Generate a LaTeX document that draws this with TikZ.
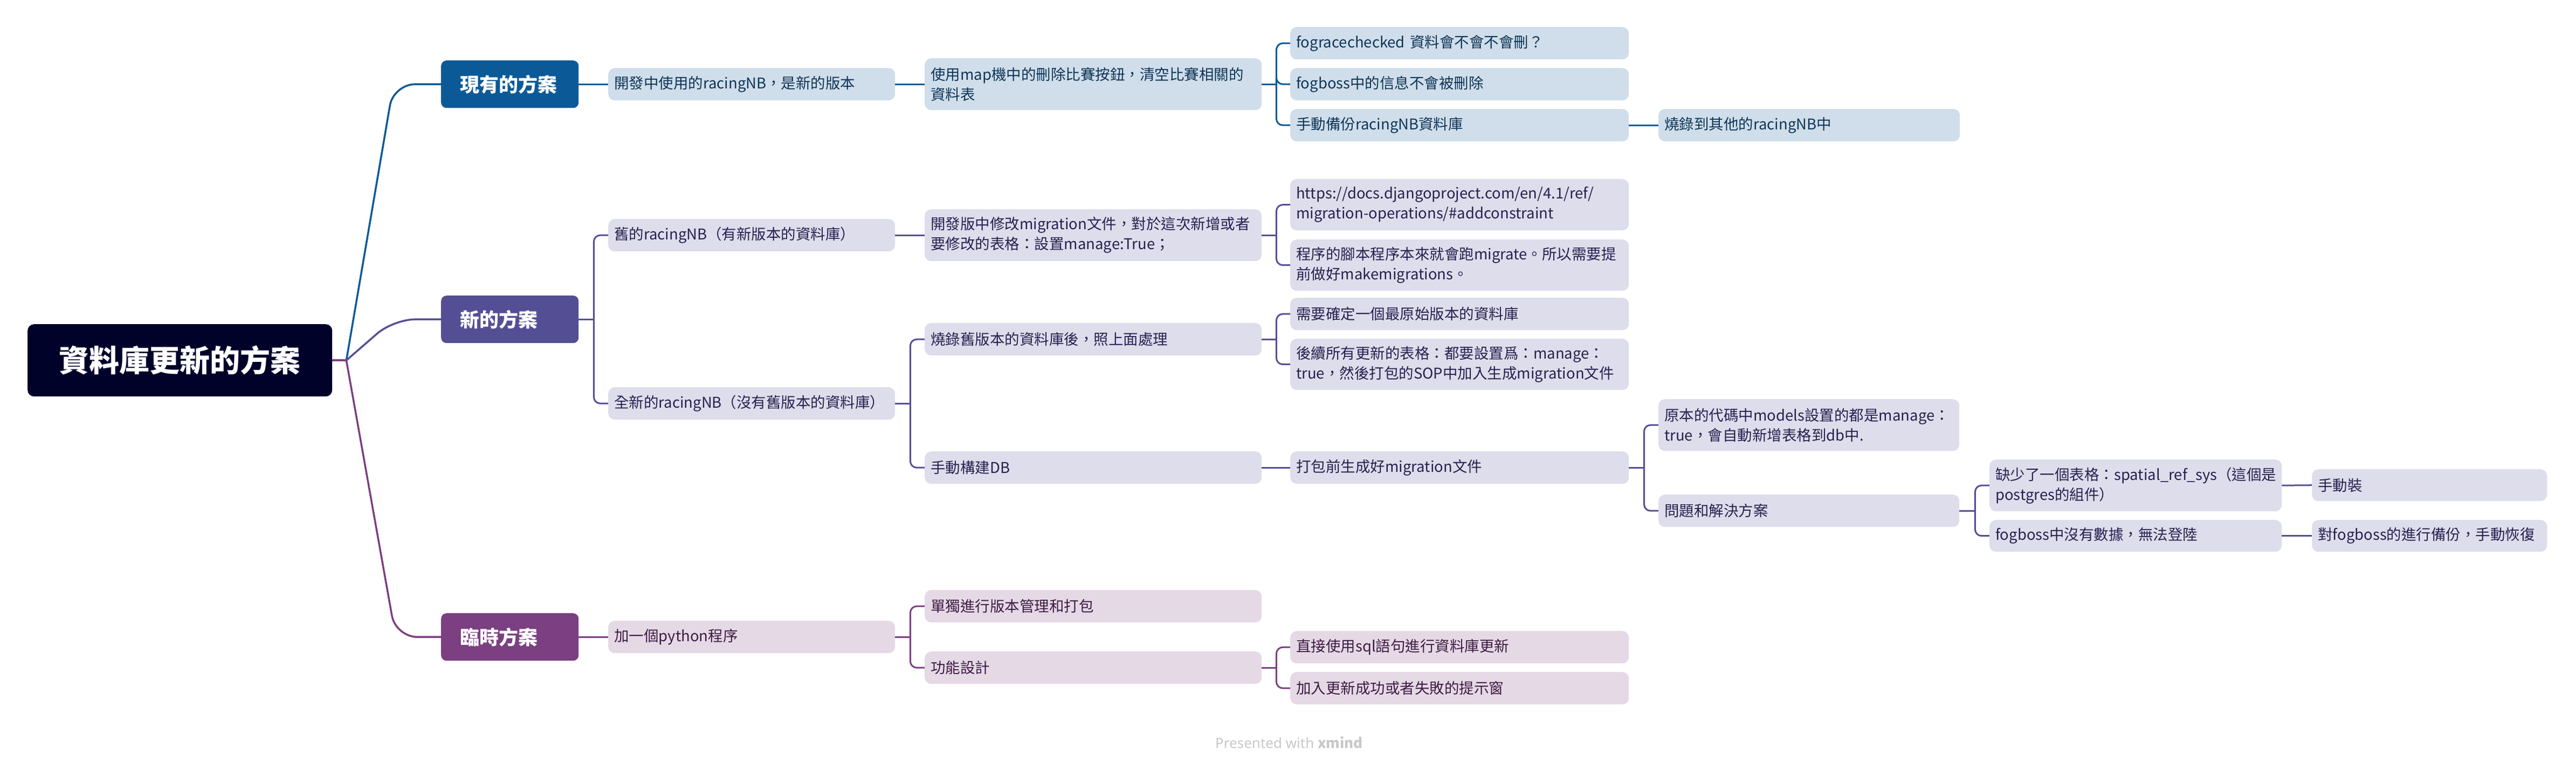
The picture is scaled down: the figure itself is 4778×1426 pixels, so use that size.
\documentclass[tikz,border=0pt]{standalone}
\usepackage{fontspec}
\setmainfont{Noto Sans CJK TC}
\newfontfamily\footfont{Noto Sans}
\usetikzlibrary{calc}
\definecolor{rootC}{HTML}{00022A}
\definecolor{blueC}{HTML}{0B5A97}
\definecolor{blueL}{HTML}{CFDEEA}
\definecolor{blueT}{HTML}{0F3457}
\definecolor{purC}{HTML}{544F95}
\definecolor{purL}{HTML}{DEDDEB}
\definecolor{purT}{HTML}{262150}
\definecolor{plumC}{HTML}{7B3F82}
\definecolor{plumL}{HTML}{E5D9E6}
\definecolor{plumT}{HTML}{3D1B42}
\definecolor{footC}{HTML}{C8C8C8}
\newcommand\bx[8]{%
  \pgfmathsetmacro\myBW{#4-#2}%
  \pgfmathsetmacro\myBH{#5-#3}%
  \pgfmathsetmacro\myTW{#4-#2-2*#7}%
  \node[#6, anchor=north west, minimum width=\myBW pt, minimum height=\myBH pt,
        text width=\myTW pt, inner xsep=#7pt, inner ysep=0pt] (#1) at (#2,#3) {#8};}
\tikzset{
  lvl/.style={rounded corners=12pt, align=left, font=\fontsize{27.5}{37}\selectfont},
  bl/.style={lvl, fill=blueL, text=blueT},
  pl/.style={lvl, fill=purL, text=purT},
  ml/.style={lvl, fill=plumL, text=plumT},
  mainbox/.style={rounded corners=10pt, align=left, text=white, font=\fontsize{36}{44}\selectfont\bfseries},
  rootbox/.style={rounded corners=12pt, align=center, fill=rootC, text=white, font=\fontsize{56}{66}\selectfont\bfseries},
  cb/.style={line width=3pt},
  brk/.style={line width=3pt, rounded corners=12pt},
  trunk/.style={line width=3.5pt, rounded corners=40pt},
}
\begin{document}
\begin{tikzpicture}[x=1pt, y=-1pt]
\useasboundingbox (0,0) rectangle (4778,1426);
% root and main branches
\bx{root}{51}{601}{616}{735}{rootbox}{30}{資料庫更新的方案}
\bx{m1}{818}{112}{1073}{200}{mainbox, fill=blueC}{35}{現有的方案}
\bx{m2}{818}{548}{1073}{636}{mainbox, fill=purC}{35}{新的方案}
\bx{m3}{818}{1137}{1073}{1225}{mainbox, fill=plumC}{35}{臨時方案}
% branch 1
\bx{a1}{1128}{126}{1660}{186}{bl}{11}{開發中使用的racingNB，是新的版本}
\bx{a2}{1715}{108}{2340}{204}{bl}{11}{使用map機中的刪除比賽按鈕，清空比賽相關的\\資料表}
\bx{a31}{2393}{50}{3021}{110}{bl}{11}{fogracechecked 資料會不會不會刪？}
\bx{a32}{2393}{126}{3021}{186}{bl}{11}{fogboss中的信息不會被刪除}
\bx{a33}{2393}{202}{3021}{262}{bl}{11}{手動備份racingNB資料庫}
\bx{a331}{3076}{202}{3635}{262}{bl}{11}{燒錄到其他的racingNB中}
% branch 2
\bx{b1}{1128}{406}{1660}{466}{pl}{11}{舊的racingNB（有新版本的資料庫）}
\bx{b11}{1715}{388}{2340}{484}{pl}{11}{開發版中修改migration文件，對於這次新增或者\\要修改的表格：設置manage:True；}
\bx{b111}{2393}{332}{3021}{427}{pl}{11}{https://docs.djangoproject.com/en/4.1/ref/\\migration-operations/\#addconstraint}
\bx{b112}{2393}{444}{3021}{539}{pl}{11}{程序的腳本程序本來就會跑migrate。所以需要提\\前做好makemigrations。}
\bx{b2}{1128}{718}{1660}{778}{pl}{11}{全新的racingNB（沒有舊版本的資料庫）}
\bx{b21}{1715}{599}{2340}{659}{pl}{11}{燒錄舊版本的資料庫後，照上面處理}
\bx{b211}{2393}{552}{3021}{612}{pl}{11}{需要確定一個最原始版本的資料庫}
\bx{b212}{2393}{628}{3021}{723}{pl}{11}{後續所有更新的表格：都要設置爲：manage：\\true，然後打包的SOP中加入生成migration文件}
\bx{b22}{1715}{837}{2340}{897}{pl}{11}{手動構建DB}
\bx{b221}{2393}{837}{3021}{897}{pl}{11}{打包前生成好migration文件}
\bx{b2211}{3076}{740}{3634}{836}{pl}{11}{原本的代碼中models設置的都是manage：\\true，會自動新增表格到db中.}
\bx{b2212}{3076}{917}{3634}{977}{pl}{11}{問題和解決方案}
\bx{q1}{3690}{852}{4232}{948}{pl}{11}{缺少了一個表格：spatial\_ref\_sys（這個是\\postgres的組件）}
\bx{q11}{4288}{870}{4724}{929}{pl}{11}{手動裝}
\bx{q2}{3690}{964}{4232}{1023}{pl}{11}{fogboss中沒有數據，無法登陸}
\bx{q21}{4288}{964}{4724}{1023}{pl}{11}{對fogboss的進行備份，手動恢復}
% branch 3
\bx{c1}{1128}{1151}{1660}{1211}{ml}{11}{加一個python程序}
\bx{c11}{1715}{1094}{2340}{1154}{ml}{11}{單獨進行版本管理和打包}
\bx{c12}{1715}{1208}{2340}{1268}{ml}{11}{功能設計}
\bx{c121}{2393}{1170}{3021}{1230}{ml}{11}{直接使用sql語句進行資料庫更新}
\bx{c122}{2393}{1246}{3021}{1306}{ml}{11}{加入更新成功或者失敗的提示窗}
% footer
\node[text=footC, font=\footfont\fontsize{26}{30}\selectfont] (foot) at (2391,1377) {Presented with {\rmfamily\bfseries xmind}};
% trunks
\coordinate (rj) at ($(root.east)+(26,0)$);
\draw[trunk, draw=blueC] (rj) -- ($(m1.west)+(-88,0)$) -- (m1.west);
\draw[trunk, draw=purC] (rj) -- ($(m2.west)+(-88,0)$) -- (m2.west);
\draw[trunk, draw=plumC] (rj) -- ($(m3.west)+(-84,0)$) -- (m3.west);
\draw[line width=3.5pt, draw=plumC] (root.east) -- (rj);
% branch 1 connectors
\begin{scope}[draw=blueC]
\draw[cb] (m1.east) -- (a1.west);
\draw[cb] (a1.east) -- (a2.west);
\draw[cb] (a2.east) -- ++(27,0) coordinate (a2j);
\draw[brk] (a2j) |- (a31.west);
\draw[brk] (a2j) |- (a32.west);
\draw[brk] (a2j) |- (a33.west);
\draw[cb] (a33.east) -- (a331.west);
\end{scope}
% branch 2 connectors
\begin{scope}[draw=purC]
\draw[cb] (m2.east) -- ++(28,0) coordinate (m2j);
\draw[brk] (m2j) |- (b1.west);
\draw[brk] (m2j) |- (b2.west);
\draw[cb] (b1.east) -- (b11.west);
\draw[cb] (b11.east) -- ++(27,0) coordinate (b11j);
\draw[brk] (b11j) |- (b111.west);
\draw[brk] (b11j) |- (b112.west);
\draw[cb] (b2.east) -- ++(28,0) coordinate (b2j);
\draw[brk] (b2j) |- (b21.west);
\draw[brk] (b2j) |- (b22.west);
\draw[cb] (b21.east) -- ++(27,0) coordinate (b21j);
\draw[brk] (b21j) |- (b211.west);
\draw[brk] (b21j) |- (b212.west);
\draw[cb] (b22.east) -- (b221.west);
\draw[cb] (b221.east) -- ++(28,0) coordinate (b221j);
\draw[brk] (b221j) |- (b2211.west);
\draw[brk] (b221j) |- (b2212.west);
\draw[cb] (b2212.east) -- ++(29,0) coordinate (b2212j);
\draw[brk] (b2212j) |- (q1.west);
\draw[brk] (b2212j) |- (q2.west);
\draw[cb] (q1.east) -- (q11.west);
\draw[cb] (q2.east) -- (q21.west);
\end{scope}
% branch 3 connectors
\begin{scope}[draw=plumC]
\draw[cb] (m3.east) -- (c1.west);
\draw[cb] (c1.east) -- ++(28,0) coordinate (c1j);
\draw[brk] (c1j) |- (c11.west);
\draw[brk] (c1j) |- (c12.west);
\draw[cb] (c12.east) -- ++(27,0) coordinate (c12j);
\draw[brk] (c12j) |- (c121.west);
\draw[brk] (c12j) |- (c122.west);
\end{scope}
\end{tikzpicture}
\end{document}
